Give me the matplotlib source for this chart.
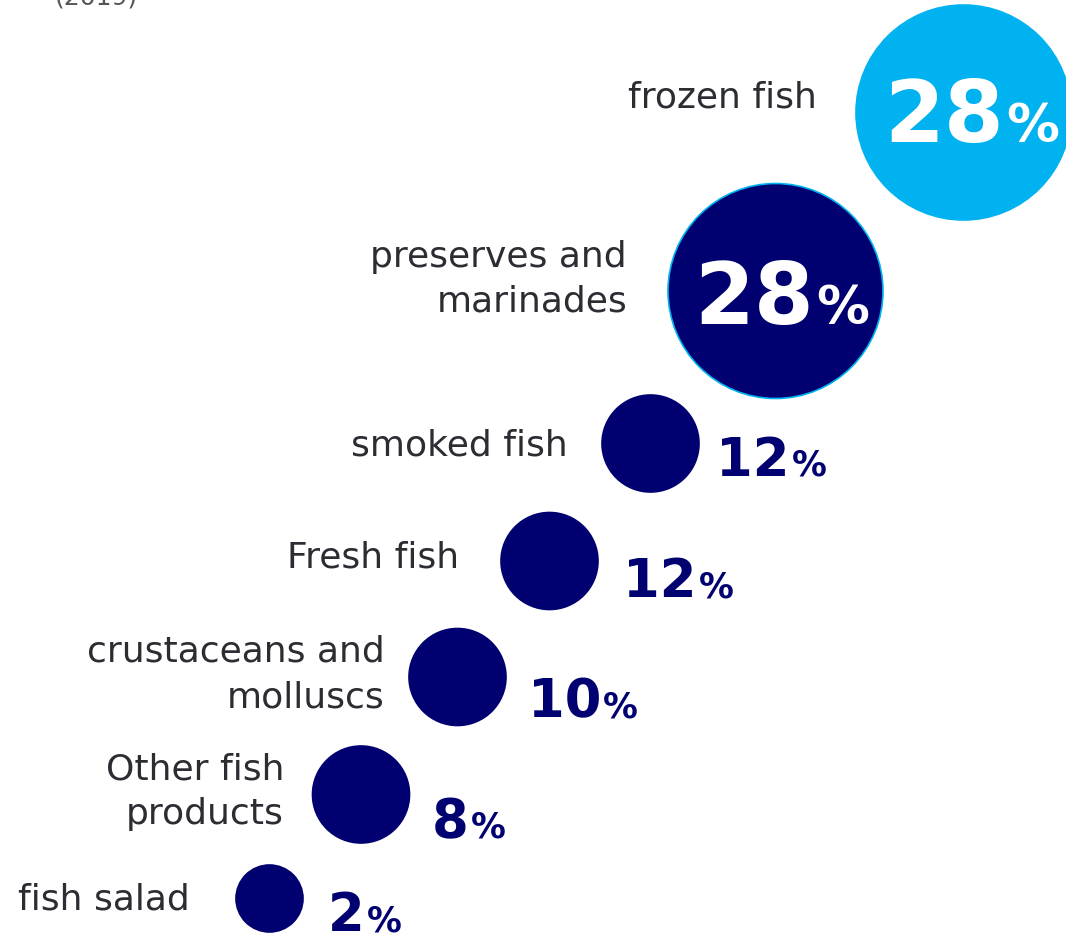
import matplotlib

matplotlib.use("Agg")
import matplotlib.pyplot as plt
from matplotlib.patches import Circle

# market share by product group
categories = [
    "frozen fish",
    "preserves and\nmarinades",
    "smoked fish",
    "Fresh fish",
    "crustaceans and\nmolluscs",
    "Other fish\nproducts",
    "fish salad",
]
shares = [28, 28, 12, 12, 10, 8, 2]
year_note = "(2019)"

# layout in pixel units (figure is 1066 x 934 px)
W, H = 1066, 934
cx = [963.5, 775.5, 650.5, 549.5, 457.5, 361, 269.5]
cy = [112.5, 291, 443.5, 561, 677, 794.5, 898.5]
radius = [107.5, 107.5, 48.5, 48.5, 48.5, 48.5, 33.5]
label_right = [817, 627, 568, 459, 385, 284, 190]
label_base = [107, 267, 455, 567, 662, 779, 910]
LINE_GAP = 45
# value labels: centre x for the big circles, left x for the small ones
value_x = [971, 781, 716, 623, 528, 432, 328]
value_base = [142, 324, 476, 597, 717, 837, 931]

LIGHT_BLUE = "#00B2F0"
NAVY = "#000070"
TEXT = "#2B2D33"

fig = plt.figure(figsize=(W / 100, H / 100), dpi=100)
ax = fig.add_axes([0, 0, 1, 1])
ax.set_xlim(0, W)
ax.set_ylim(H, 0)
ax.axis("off")
renderer = fig.canvas.get_renderer()


def text_width(t):
    return t.get_window_extent(renderer).width


def pct_label(x, base, value, num_size, pct_size, color, center=False):
    num = ax.text(x, base, str(value), fontsize=num_size, fontweight="bold",
                  color=color, ha="left", va="baseline")
    pct = ax.text(x, base, "%", fontsize=pct_size, fontweight="bold",
                  color=color, ha="left", va="baseline")
    w_num = text_width(num)
    w_pct = text_width(pct)
    left = x - (w_num + w_pct) / 2 if center else x
    num.set_x(left)
    pct.set_x(left + w_num + 2)


for i, (name, val) in enumerate(zip(categories, shares)):
    big = i < 2
    face = LIGHT_BLUE if i == 0 else NAVY
    edge = LIGHT_BLUE if i == 1 else face
    ax.add_patch(Circle((cx[i], cy[i]), radius[i], facecolor=face,
                        edgecolor=edge, linewidth=1.2))

    for k, line in enumerate(name.split("\n")):
        ax.text(label_right[i], label_base[i] + k * LINE_GAP, line,
                fontsize=26, color=TEXT, ha="right", va="baseline")

    if big:
        pct_label(value_x[i], value_base[i], val, 62, 38, "white", center=True)
    else:
        pct_label(value_x[i], value_base[i], val, 38, 25, NAVY)

ax.text(55, 4, year_note, fontsize=18, color="#555555", ha="left", va="baseline")

fig.savefig("out.png", dpi=100)
plt.close(fig)
